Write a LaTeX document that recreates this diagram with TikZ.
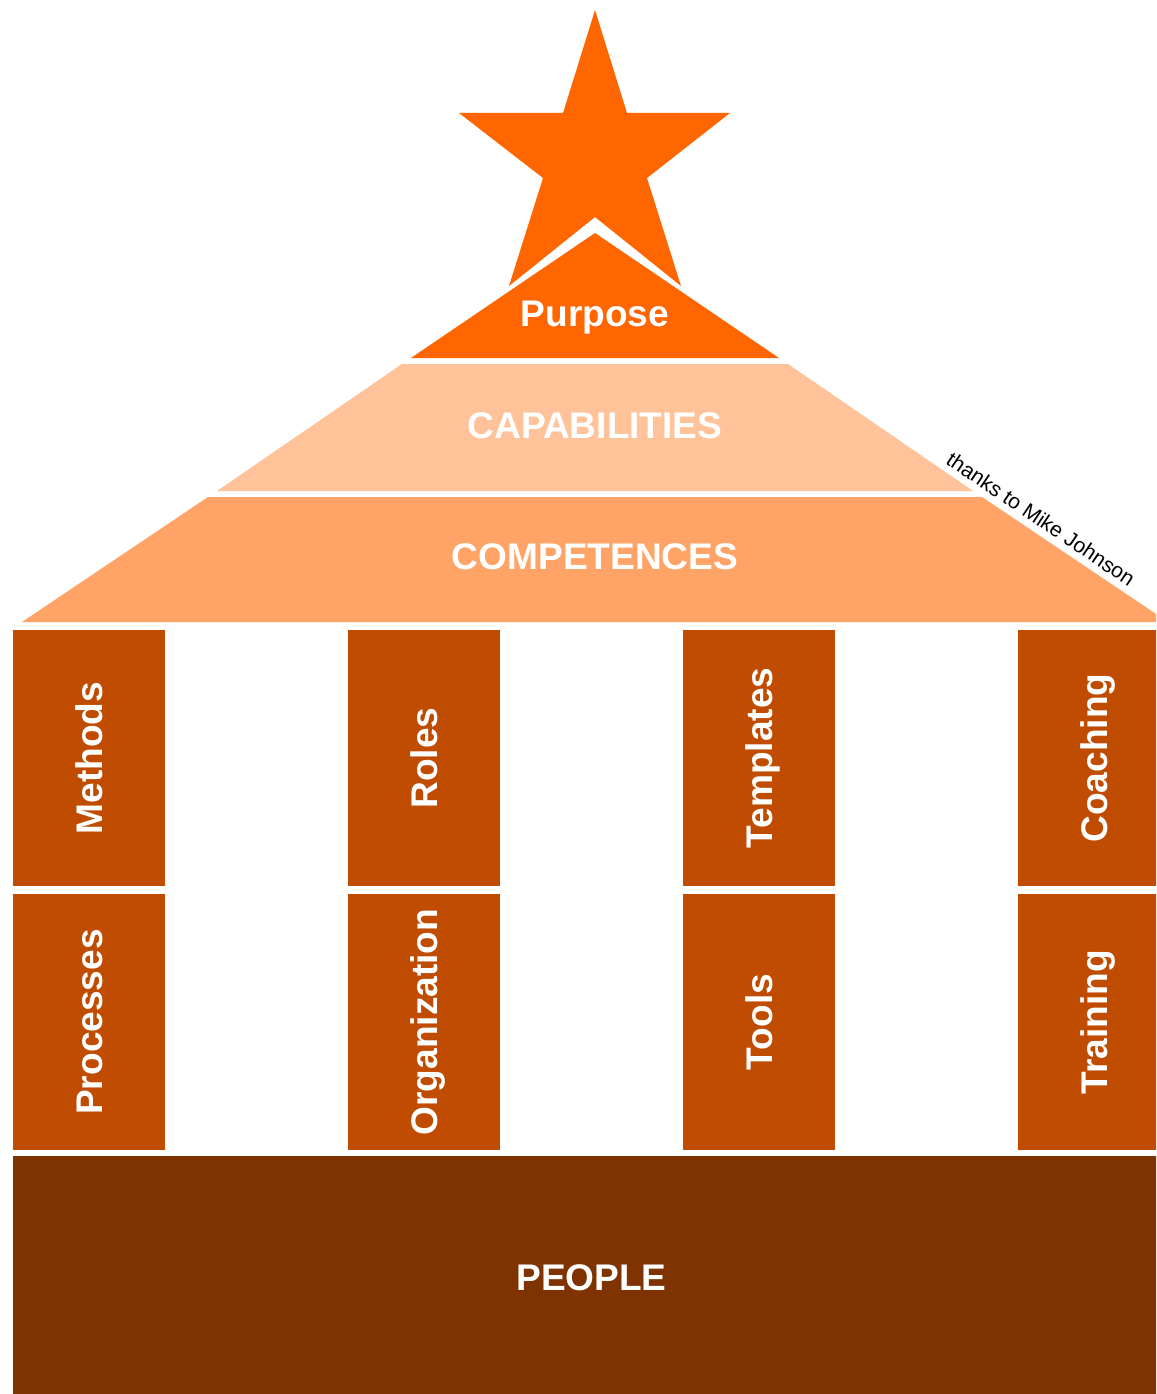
\documentclass[tikz,border=0pt]{standalone}
\usepackage{fontspec}
\setmainfont{Liberation Sans}
\definecolor{starorange}{HTML}{FF6600}
\definecolor{capab}{HTML}{FFC299}
\definecolor{compet}{HTML}{FFA366}
\definecolor{pillarc}{HTML}{BF4C00}
\definecolor{peoplec}{HTML}{7F3300}
\begin{document}
\begin{tikzpicture}[x=0.75pt,y=-0.75pt,
  bigtxt/.style={text=white,font=\fontsize{27.8}{30}\selectfont\bfseries,inner sep=0pt},
  pillartxt/.style={bigtxt,rotate=90,anchor=base},
  pillarbox/.style={fill=pillarc}]
\useasboundingbox (0,0) rectangle (1156,1394);
\clip (0,0) rectangle (1156,1394);
% star
\fill[starorange] (595,10) -- (627,113) -- (730,113) -- (647,178) -- (681,286)
  -- (595,217) -- (509,286) -- (543,178) -- (459,113) -- (563,113) -- cycle;
% purpose triangle
\filldraw[fill=starorange,draw=white,line width=6pt,line join=miter]
  (595,233) -- (779,358) -- (411,358) -- cycle;
\fill[starorange] (595,233) -- (779,358) -- (411,358) -- cycle;
% capabilities
\fill[capab] (402,364) -- (788,364) -- (973,491) -- (217,491) -- cycle;
% competences
\fill[compet] (208,497) -- (982,497) -- (1168,622) -- (22,622) -- cycle;
% pillars
\foreach \px in {13,348,683,1018}{
  \fill[pillarbox] (\px,630) rectangle ++(152,256);
  \fill[pillarbox] (\px,894) rectangle ++(152,256);
}
% people
\fill[peoplec] (13,1156) rectangle (1170,1400);
% texts
\node[bigtxt,anchor=base] (purpose) at (595,326) {Purpose};
\node[bigtxt,anchor=base] (capabilities) at (595,438) {CAPABILITIES};
\node[bigtxt,anchor=base] (competences) at (595,569) {COMPETENCES};
\node[bigtxt,anchor=base] (people) at (591.5,1290) {PEOPLE};
\node[pillartxt] (methods) at (102,758) {Methods};
\node[pillartxt] (roles) at (437,758) {Roles};
\node[pillartxt] (templates) at (772,758) {Templates};
\node[pillartxt] (coaching) at (1107,758) {Coaching};
\node[pillartxt] (processes) at (102,1022) {Processes};
\node[pillartxt] (organization) at (437,1022) {Organization};
\node[pillartxt] (tools) at (772,1022) {Tools};
\node[pillartxt] (training) at (1107,1022) {Training};
\node[rotate=-33.9,inner sep=0pt,font=\fontsize{15.8}{17}\selectfont] (thanks) at (1041,519) {thanks to Mike Johnson};
\end{tikzpicture}
\end{document}
